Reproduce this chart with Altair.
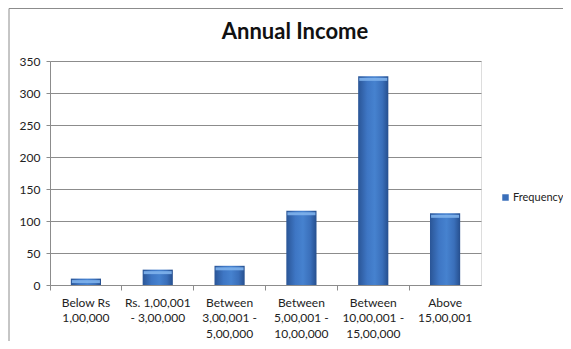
import altair as alt
import pandas as pd

title_text = "Annual Income"
label_lines = [
    ["Below Rs", "1,00,000"],
    ["Rs. 1,00,001", "- 3,00,000"],
    ["Between", "3,00,001 -", "5,00,000"],
    ["Between", "5,00,001 -", "10,00,000"],
    ["Between", "10,00,001 -", "15,00,000"],
    ["Above", "15,00,001"],
]
categories = ["\n".join(l) for l in label_lines]
frequency = [10, 24, 30, 116, 326, 112]
series_name = "Frequency"
y_ticks = [0, 50, 100, 150, 200, 250, 300, 350]

df = pd.DataFrame({"category": categories, "value": frequency, "series": series_name})
title_df = pd.DataFrame({"t": [title_text]})

FONT = "Lato"
W, H = 431, 224

bar_grad = alt.Gradient(
    gradient="linear",
    x1=0, x2=1, y1=0, y2=0,
    stops=[
        alt.GradientStop(color="#2a5596", offset=0),
        alt.GradientStop(color="#3e76c4", offset=0.3),
        alt.GradientStop(color="#4682cf", offset=0.55),
        alt.GradientStop(color="#3a6fba", offset=0.8),
        alt.GradientStop(color="#264f8e", offset=1),
    ],
)

x_axis = alt.Axis(
    title=None,
    labelAngle=0,
    labelExpr="split(datum.label, '\\n')",
    labelFont=FONT,
    labelFontSize=12,
    labelColor="#222222",
    labelLineHeight=15.5,
    labelPadding=7,
    bandPosition=0,
    ticks=True,
    tickSize=5,
    tickColor="#8c8c8c",
    domainColor="#8c8c8c",
    grid=False,
    labelBaseline="top",
)
y_axis = alt.Axis(
    title=None,
    values=y_ticks,
    labelFont=FONT,
    labelFontSize=12,
    labelColor="#222222",
    labelPadding=6,
    tickSize=4,
    tickColor="#8c8c8c",
    domainColor="#8c8c8c",
    gridColor="#8c8c8c",
    gridWidth=1,
)
x_scale = alt.Scale(paddingInner=0, paddingOuter=0)
y_scale = alt.Scale(domain=[0, 350], nice=False)

def X():
    return alt.X("category:N", sort=None, scale=x_scale, axis=x_axis)

def Y():
    return alt.Y("value:Q", scale=y_scale, axis=y_axis)

bars = alt.Chart(df).mark_bar(width=alt.RelativeBandSize(0.42), fill=bar_grad).encode(
    x=X(), y=Y(),
)

legend_layer = alt.Chart(df).mark_point(shape="square", filled=True, opacity=0).encode(
    x=X(), y=Y(),
    color=alt.Color(
        "series:N",
        scale=alt.Scale(range=["#3a6fba"]),
        legend=alt.Legend(
            title=None,
            orient="none",
            legendX=450,
            legendY=131,
            symbolType="square",
            symbolSize=42,
            symbolOpacity=1,
            symbolStrokeWidth=0,
            labelFont=FONT,
            labelFontSize=11,
            labelColor="#222222",
            labelOffset=2,
        ),
    ),
)

highlight = alt.Chart(df).mark_tick(
    thickness=3, yOffset=3, color="#7fb2ec", opacity=0.9, size=28, orient="horizontal"
).encode(x=X(), y=Y())

frame = alt.Chart(title_df).mark_rect(
    fill=None, stroke="#8c8c8c", strokeWidth=1, clip=False
).encode(
    x=alt.value(-41), x2=alt.value(700), y=alt.value(-52.5), y2=alt.value(500)
)

title = alt.Chart(title_df).mark_text(
    font=FONT, fontSize=22, fontWeight="bold", color="#111111",
    align="center", baseline="middle",
).encode(text="t:N", x=alt.value(245), y=alt.value(-29))

chart = alt.layer(frame, bars, highlight, legend_layer, title).properties(
    width=W,
    height=H,
    autosize=alt.AutoSizeParams(type="none"),
    padding={"left": 42, "top": 53, "right": 82, "bottom": 56},
).configure_view(stroke=None).configure(background="white")

chart.save("out.html", embed_options={"renderer": "svg", "actions": False})
